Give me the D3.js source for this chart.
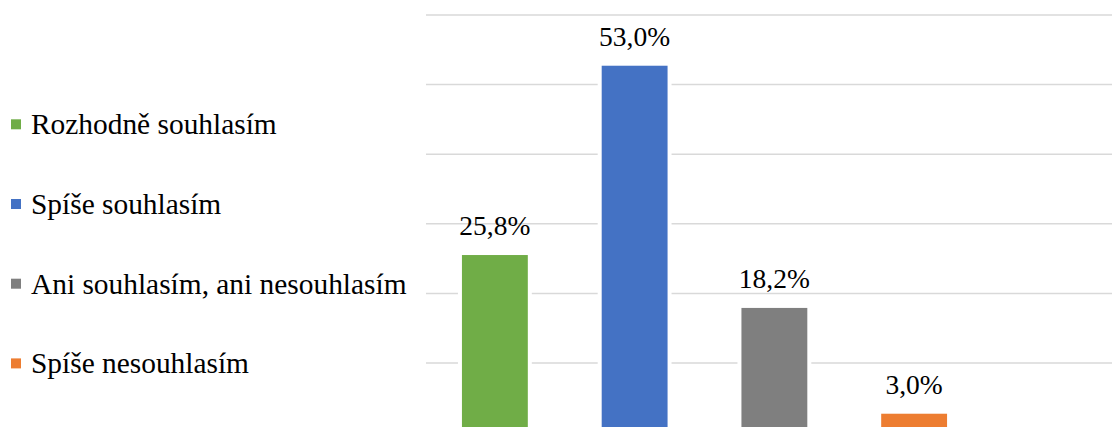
<!DOCTYPE html>
<html>
<head>
<meta charset="utf-8">
<script src="https://cdn.jsdelivr.net/npm/d3@7"></script>
<style>
  body { margin: 0; background: #fff; }
</style>
</head>
<body>
<div id="chart"></div>
<script>
var categories = ["Rozhodně souhlasím", "Spíše souhlasím", "Ani souhlasím, ani nesouhlasím", "Spíše nesouhlasím"];
var values = [25.8, 53.0, 18.2, 3.0];
var colors = ["#70AD47", "#4472C4", "#7F7F7F", "#ED7D31"];
var yTicks = [10, 20, 30, 40, 50, 60];

var width = 1112, height = 427;
var svg = d3.select("#chart").append("svg")
    .attr("width", width)
    .attr("height", height);

var x = d3.scaleBand(categories, [425, 984])
    .paddingInner(0.5)
    .paddingOuter(0.25);
var y = d3.scaleLinear([0, 60], [432.6, 15]);

// gridlines
svg.append("g").selectAll("line")
    .data(yTicks)
    .join("line")
    .attr("x1", 426).attr("x2", width)
    .attr("y1", d => y(d)).attr("y2", d => y(d))
    .style("stroke", "#d9d9d9")
    .style("stroke-width", "1.5px");

// bars
svg.append("g").selectAll("rect")
    .data(values)
    .join("rect")
    .attr("x", (d, i) => x(categories[i]))
    .attr("y", d => y(d))
    .attr("width", x.bandwidth())
    .attr("height", d => y(0) - y(d))
    .style("fill", (d, i) => colors[i])
    .style("stroke", "#fff")
    .style("stroke-width", "4px");

// value labels
svg.append("g").selectAll("text")
    .data(values)
    .join("text")
    .attr("x", (d, i) => x(categories[i]) + x.bandwidth() / 2)
    .attr("y", d => y(d) - 18)
    .attr("text-anchor", "middle")
    .style("font-family", "'Liberation Serif'")
    .style("font-size", "27.5px")
    .text(d => d3.format(".1f")(d).replace(".", ",") + "%");

// legend
var legend = svg.append("g").selectAll("g")
    .data(categories)
    .join("g")
    .attr("transform", (d, i) => "translate(11," + (134.3 + i * 79.7) + ")");
legend.append("rect")
    .attr("x", 0).attr("y", -15)
    .attr("width", 10).attr("height", 10)
    .style("fill", (d, i) => colors[i]);
legend.append("text")
    .attr("x", 20)
    .style("font-family", "'Liberation Serif'")
    .style("font-size", "29.4px")
    .text(d => d);
</script>
</body>
</html>
